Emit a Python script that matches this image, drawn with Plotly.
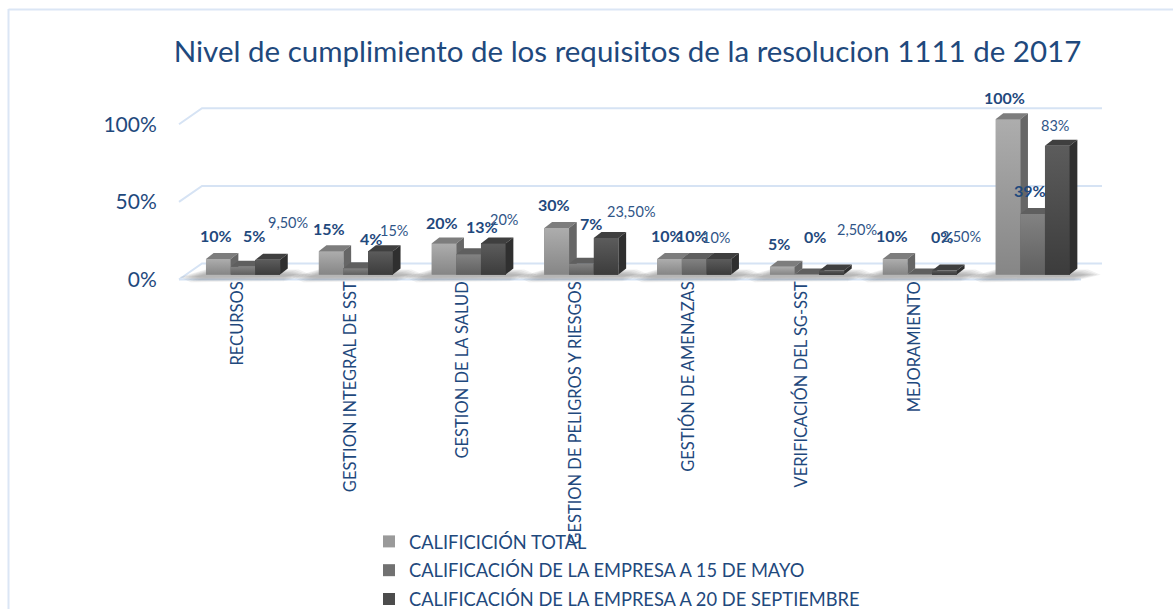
import plotly.graph_objects as go

# ---- data ----
categories = ["RECURSOS", "GESTION INTEGRAL DE SST", "GESTION DE LA SALUD",
              "GESTION DE PELIGROS Y RIESGOS", "GESTIÓN DE AMENAZAS",
              "VERIFICACIÓN DEL SG-SST", "MEJORAMIENTO", ""]
series_names = ["CALIFICICIÓN TOTAL", "CALIFICACIÓN DE LA EMPRESA A 15 DE MAYO",
                "CALIFICACIÓN DE LA EMPRESA A 20 DE SEPTIEMBRE"]
total = [10, 15, 20, 30, 10, 5, 10, 100]
mayo = [5, 4, 13, 7, 10, 0, 0, 39]
septiembre = [9.5, 15, 20, 23.5, 10, 2.5, 2.5, 83]
labels_total = ["10%", "15%", "20%", "30%", "10%", "5%", "10%", "100%"]
labels_mayo = ["5%", "4%", "13%", "7%", "10%", "0%", "0%", "39%"]
labels_sept = ["9,50%", "15%", "20%", "23,50%", "10%", "2,50%", "2,50%", "83%"]
y_ticks = [0, 50, 100]
y_tick_text = ["0%", "50%", "100%"]
title = "Nivel de cumplimiento de los requisitos de la resolucion 1111 de 2017"

# ---- style / label placement (pixels) ----
INK = "#1f497d"
FONT = "Lato"
label_dx = [[-2, -2, -2, -3, -3, -3, -3, -3],
            [11, 15, 13, 10, -2, 8, 22, -3],
            [20, 13, 11, 25, -3, 25, 16, -2]]
label_dy = [[23, 23, 21, 23, 23, 23, 23, 22],
            [31, 30, 28, 40, 23, 38, 38, 23],
            [37, 21, 24, 27, 21, 41, 34, 20]]
front_grad = [("#adadad", "#868686"), ("#828282", "#606060"), ("#5c5c5c", "#3c3c3c")]
front_mid = ["#9a9a9a", "#717171", "#4c4c4c"]
top_col = ["#7d7d7d", "#5f5f5f", "#3f3f3f"]
side_col = ["#666666", "#4d4d4d", "#2f2f2f"]

W, H = 1173, 609
PT, PB, PL, PR = 90, 284, 170, 1110
GROUP = 112.8
CX0 = 243.0
YSCALE = 1.552
BW = 24.7 / GROUP
DX = 7.7 / GROUP
DY = 6 / YSCALE
x_range = [(PL - CX0) / GROUP, (PR - CX0) / GROUP]
def yr(p0):
    return [(p0 - PB) / YSCALE, (p0 - PT) / YSCALE]
def fx(px):
    return (px - PL) / (PR - PL)
def fy(py):
    return (PB - py) / (PB - PT)

series = [total, mayo, septiembre]
texts = [labels_total, labels_mayo, labels_sept]
xs = list(range(len(categories)))
fig = go.Figure()

# grid on the front axis
GRID = "#d6e3f4"
GX_FL, GX_BL = (179 - CX0) / GROUP, (202 - CX0) / GROUP
GX_BR, GX_FR = (1102 - CX0) / GROUP, (1081 - CX0) / GROUP
GD = 16 / YSCALE
for t in y_ticks:
    gx = [GX_FL, GX_BL, GX_BR] + ([None, GX_FL, GX_FR] if t == 0 else [])
    gy = [t, t + GD, t + GD] + ([None, t, t] if t == 0 else [])
    fig.add_trace(go.Scatter(x=gx, y=gy, mode="lines", line=dict(color=GRID, width=2),
                             showlegend=False, hoverinfo="skip"))

# soft floor shadow
for layer in range(6):
    grow = (5 - layer) * 3 / GROUP
    gy = (5 - layer) * 0.9 / YSCALE
    for i in xs:
        fig.add_trace(go.Scatter(
            x=[i - 0.43 - grow, i - 0.33, i + 0.36 + grow, i + 0.47 + grow, i + 0.36, i - 0.33 - grow],
            y=[1.6, 3.6 + gy, 3.6 + gy, 3.0, 1.8 - gy, 1.2 - gy],
            mode="lines", line=dict(width=0), fill="toself",
            fillcolor="rgba(60,60,60,0.07)", showlegend=False, hoverinfo="skip"))

# each series on its own overlaying axis, so that later series paint over earlier ones
axes = ["y2", "y3", "y4"]
for k, vals in enumerate(series):
    off = (k - 1) * BW
    ax = axes[k]
    fig.add_trace(go.Bar(x=[i + off for i in xs], y=vals, width=BW, yaxis=ax,
                         name=series_names[k], marker=dict(color=front_mid[k], line=dict(width=0)),
                         hovertemplate="%{y}%<extra>" + series_names[k] + "</extra>",
                         legendgroup=series_names[k]))
    for i, v in enumerate(vals):
        l, r = i + off - BW / 2, i + off + BW / 2
        if v > 0:
            fig.add_trace(go.Scatter(
                x=[l, r, r, l, l], y=[0, 0, v, v, 0], yaxis=ax, mode="lines", line=dict(width=0),
                fill="toself",
                fillgradient=dict(type="vertical",
                                  colorscale=[[0, front_grad[k][1]], [1, front_grad[k][0]]]),
                showlegend=False, hoverinfo="skip"))
        fig.add_trace(go.Scatter(
            x=[l, l + DX, r + DX, r, l], y=[v, v + DY, v + DY, v, v], yaxis=ax, mode="lines",
            line=dict(width=0), fill="toself", fillcolor=top_col[k], showlegend=False, hoverinfo="skip"))
        fig.add_trace(go.Scatter(
            x=[r, r + DX, r + DX, r, r], y=[0, DY, v + DY, v, 0], yaxis=ax, mode="lines",
            line=dict(width=0), fill="toself", fillcolor=side_col[k], showlegend=False, hoverinfo="skip"))

# data labels
annos = []
for k, vals in enumerate(series):
    off = (k - 1) * BW
    for i, v in enumerate(vals):
        annos.append(dict(
            x=i + off, y=v, xref="x", yref="y2", text=("<b>%s</b>" % texts[k][i]) if k < 2 else texts[k][i],
            showarrow=False, xshift=label_dx[k][i], yshift=label_dy[k][i],
            xanchor="center", yanchor="middle",
            font=dict(family=FONT, size=16 if k < 2 else 14.5, color=INK if k < 2 else "#2f5587")))

P0_FRONT, P0_BAR = 279.5, 274.5
hidden = dict(overlaying="y", visible=False, range=yr(P0_BAR), fixedrange=True)
fig.update_layout(
    width=W, height=H, autosize=False, paper_bgcolor="white", plot_bgcolor="rgba(0,0,0,0)",
    margin=dict(l=PL, r=W - PR, t=PT, b=H - PB, autoexpand=False),
    barmode="overlay", bargap=0,
    font=dict(family=FONT, color=INK),
    title=dict(text=title, x=627.5 / W, xanchor="center", y=1 - 52 / H, yanchor="middle",
               font=dict(family=FONT, size=29.5, color=INK)),
    xaxis=dict(range=x_range, tickmode="array", tickvals=[i - 0.05 for i in xs], ticktext=categories,
               tickangle=-90, tickfont=dict(family=FONT, size=16.5, color=INK), showgrid=False,
               zeroline=False, showline=False, ticks="", fixedrange=True, ticklabelstandoff=-7),
    yaxis=dict(range=yr(P0_FRONT), tickmode="array", tickvals=y_ticks, ticktext=y_tick_text,
               tickfont=dict(family=FONT, size=21, color=INK), showgrid=False, zeroline=False,
               showline=False, ticks="outside", ticklen=8, tickcolor="rgba(0,0,0,0)", fixedrange=True),
    yaxis2=hidden, yaxis3=hidden, yaxis4=hidden,
    legend=dict(x=fx(369), xanchor="left", y=fy(523), yanchor="top", bgcolor="rgba(0,0,0,0)",
                font=dict(family=FONT, size=18.3, color=INK), tracegroupgap=2, traceorder="grouped"),
    annotations=annos,
    shapes=[dict(type="line", xref="paper", yref="paper", x0=fx(8.5), x1=fx(8.5), y0=fy(609), y1=fy(9),
                 line=dict(color="#dbe6f5", width=2), layer="below"),
            dict(type="line", xref="paper", yref="paper", x0=fx(8.5), x1=fx(1173), y0=fy(9.5), y1=fy(9.5),
                 line=dict(color="#dbe6f5", width=2), layer="below")],
)
fig.write_html("out.html", config={"displayModeBar": False},
               post_script="document.body.style.margin='0';")
